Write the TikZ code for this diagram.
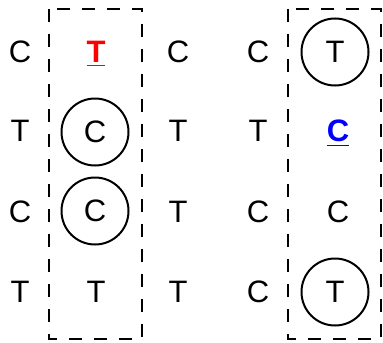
\documentclass[tikz,border=0pt]{standalone}
\usepackage{fontspec}
\setmainfont{Liberation Sans}
\usetikzlibrary{positioning}
\definecolor{mutred}{rgb}{1,0,0}
\definecolor{mutblue}{rgb}{0,0,1}

\begin{document}
\begin{tikzpicture}[% styles for the whole picture, 1 unit = one pixel of the sketch
			x=0.5pt,y=-0.5pt,
			every node/.style={
				font=\fontsize{15.5}{18}\selectfont,
				inner sep=0pt,
				text depth=0pt		% so underlined letters sit on the same line
			},
			hit/.style={circle,draw,line width=1pt,minimum size=33.5pt},
			mut/.style={font=\fontsize{15.5}{18}\selectfont\bfseries},
			window/.style={draw,line width=1.3pt,dash pattern=on 6.5pt off 6pt}
		]
		\useasboundingbox (0,0) rectangle (383,342);
		% left window
		\draw[window] (49,9) rectangle (142,339);
		\node(a1) at (20,52){C};
		\node(a2) at (20,131){T};
		\node(a3) at (20,212){C};
		\node(a4) at (20,292){T};
		\node[mut,text=mutred](b1) at (96,52){\underline{T}};
		\node[hit](b2) at (95,132){C};
		\node[hit](b3) at (95,211){C};
		\node(b4) at (96,292){T};
		\node(c1) at (178,52){C};
		\node(c2) at (178,131){T};
		\node(c3) at (178,212){T};
		\node(c4) at (178,292){T};
		% right window
		\draw[window] (288,9) rectangle (381,339);
		\node(d1) at (258,52){C};
		\node(d2) at (258,131){T};
		\node(d3) at (258,212){C};
		\node(d4) at (258,292){C};
		\node[hit](e1) at (335,52){T};
		\node[mut,text=mutblue](e2) at (338,131){\underline{C}};
		\node(e3) at (338,212){C};
		\node[hit](e4) at (335,292){T};
	\end{tikzpicture}
\end{document}
